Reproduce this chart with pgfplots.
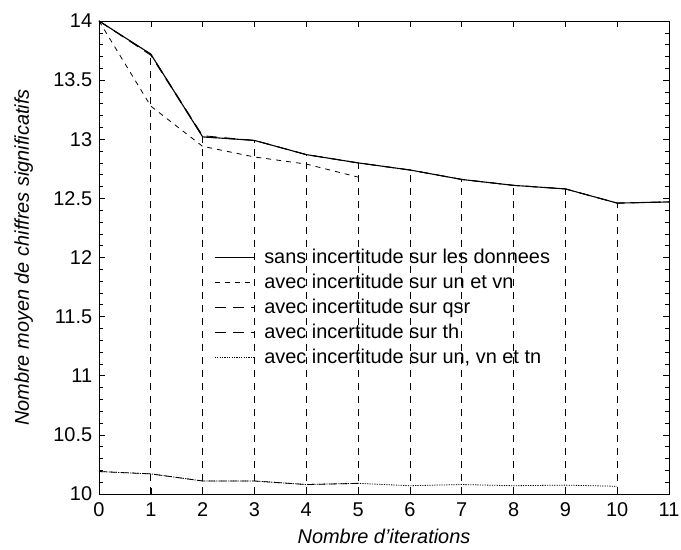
\documentclass[border=0pt]{standalone}
\usepackage{pgfplots}
\pgfplotsset{compat=1.18}
\usepackage{fontspec}
\setmainfont{Liberation Sans}
\begin{document}
\begin{tikzpicture}
\fontsize{20}{23}\selectfont
\begin{axis}[
  scale only axis, width=570bp, height=473bp,
  xmin=0, xmax=11, ymin=10, ymax=14,
  xtick={0,1,...,11}, ytick={10,10.5,...,14},
  minor y tick num=4,
  tick align=inside, major tick length=6bp, minor tick length=4bp,
  every tick/.style={black, line width=0.6pt},
  axis line style={line width=0.9pt},
  /pgf/number format/assume math mode=true,
  ticklabel style={font=\fontsize{20}{23}\selectfont},
  xticklabel style={yshift=-2bp},
  yticklabel style={/pgf/number format/.cd, fixed, precision=1},
  xlabel={\itshape Nombre d'iterations},
  ylabel={\itshape Nombre moyen de chiffres significatifs},
  label style={font=\fontsize{20}{23}\selectfont},
  xlabel style={yshift=1bp},
  ylabel style={yshift=7bp},
  legend cell align=left,
  legend style={draw=none, fill=none, at={(0.2,0.525)}, anchor=north west,
    font=\fontsize{20}{23}\selectfont, row sep=3.6bp, inner sep=1bp},
  legend image code/.code={\draw[#1] (0bp,0bp) -- (39bp,0bp); \path (47bp,0bp);},
  clip=true,
]
% vertical impulses
\addplot[ycomb, black, line width=0.7pt, dash pattern=on 7bp off 6bp, forget plot]
  coordinates {(1,13.72)(2,13.02)(3,12.99)(4,12.87)(5,12.80)(6,12.74)(7,12.66)(8,12.61)(9,12.58)(10,12.46)};
\addplot[black, line width=1.1pt] coordinates {
  (0,14)(1,13.72)(2,13.02)(3,12.99)(4,12.87)(5,12.80)(6,12.74)(7,12.66)(8,12.61)(9,12.58)(10,12.46)(11,12.47)};
\addlegendentry{sans incertitude sur les donnees}
\addplot[black, line width=0.8pt, dash pattern=on 5bp off 5bp] coordinates {
  (0,14)(1,13.28)(2,12.94)(3,12.85)(4,12.79)(5,12.68)};
\addlegendentry{avec incertitude sur un et vn}
\addplot[black, line width=0.8pt, dash pattern=on 11bp off 7bp] coordinates {
  (0,14)(1,13.71)(2,13.02)(3,12.99)(4,12.87)(5,12.80)(6,12.74)(7,12.66)(8,12.61)(9,12.58)(10,12.46)(11,12.47)};
\addlegendentry{avec incertitude sur qsr}
\addplot[black, line width=0.8pt, dash pattern=on 11bp off 7bp] coordinates {
  (0,14)(1,13.72)(2,13.03)(3,12.99)(4,12.87)(5,12.80)(6,12.74)(7,12.66)(8,12.61)(9,12.58)(10,12.46)(11,12.47)};
\addlegendentry{avec incertitude sur th}
\addplot[black, line width=0.8pt, dash pattern=on 1.2bp off 1.2bp] coordinates {
  (0,10.19)(1,10.17)(2,10.11)(3,10.11)(4,10.08)(5,10.09)(6,10.07)(7,10.08)(8,10.07)(9,10.075)(10,10.065)};
\addlegendentry{avec incertitude sur un, vn et tn}
\addplot[black, line width=0.8pt, dash pattern=on 7bp off 4bp, forget plot] coordinates {
  (0,10.19)(1,10.17)(2,10.11)(3,10.11)(4,10.08)(5,10.09)};
\end{axis}
\pgfresetboundingbox
\path[use as bounding box] ([xshift=-99bp,yshift=-56bp]current axis.south west) rectangle ([xshift=12bp,yshift=21bp]current axis.north east);
\end{tikzpicture}
\end{document}
